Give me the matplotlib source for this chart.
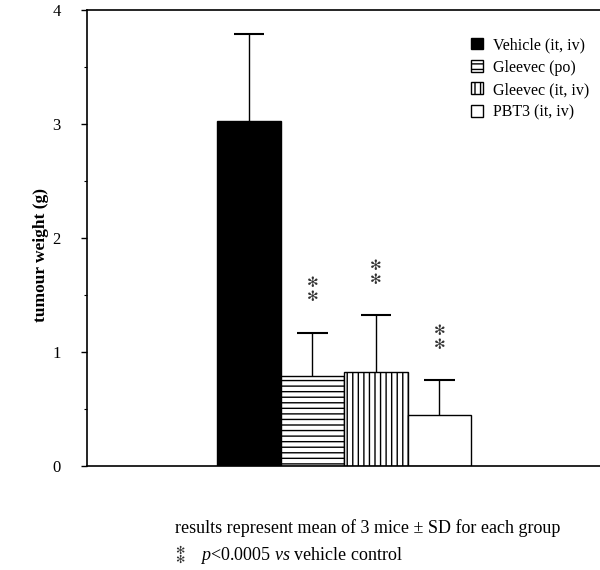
import matplotlib
matplotlib.use("Agg")
import matplotlib.pyplot as plt
from matplotlib.ticker import MultipleLocator
from matplotlib.patches import Patch

plt.rcParams['font.family'] = ['Liberation Serif', 'DejaVu Serif']
plt.rcParams['mathtext.fontset'] = 'custom'
plt.rcParams['mathtext.rm'] = 'Liberation Serif'
plt.rcParams['mathtext.it'] = 'Liberation Serif:italic'
plt.rcParams['hatch.linewidth'] = 1.0

groups = ["Vehicle (it, iv)", "Gleevec (po)", "Gleevec (it, iv)", "PBT3 (it, iv)"]
means = [3.03, 0.79, 0.82, 0.45]
sds = [0.76, 0.38, 0.50, 0.30]
significant = [False, True, True, True]
hatches = ["", "---", "|||", ""]
facecolors = ["black", "white", "white", "white"]

fig = plt.figure(figsize=(6, 5.7), dpi=100)
ax = fig.add_axes([0.145, 0.1825, 0.855, 0.8])

x = [1, 2, 3, 4]
bars = ax.bar(x, means, width=1.0, color=facecolors, edgecolor="black",
              linewidth=1.0, zorder=2)
for b, h in zip(bars, hatches):
    b.set_hatch(h)

tops = [m + s for m, s in zip(means, sds)]
ax.vlines(x, means, tops, color="black", linewidth=1.0, zorder=1)
cap = 0.24
ax.hlines(tops, [xi - cap for xi in x], [xi + cap for xi in x],
          color="black", linewidth=1.5, zorder=1)

for xi, t, sig in zip(x, tops, significant):
    if sig:
        ax.text(xi, t + 0.37, "\u273b\n\u273b", ha="center", va="center",
                fontsize=10, linespacing=1.0, color="#333333",
                family="DejaVu Sans")

ax.set_xlim(-1.547, 6.53)
ax.set_ylim(0, 4)
ax.yaxis.set_major_locator(MultipleLocator(1))
ax.yaxis.set_minor_locator(MultipleLocator(0.5))
ax.set_xticks([])
ax.spines["right"].set_visible(False)
for s in ["left", "top", "bottom"]:
    ax.spines[s].set_linewidth(1.2)
ax.tick_params(axis="y", which="major", length=4, width=1, labelsize=12, pad=15)
ax.tick_params(axis="y", which="minor", length=2, width=0.8)
ax.set_ylabel("tumour weight (g)", fontsize=12.5, fontweight="bold")
ax.yaxis.set_label_coords(-0.075, 0.463)

handles = [Patch(facecolor=fc, edgecolor="black", hatch=h, label=g)
           for g, fc, h in zip(groups, facecolors, hatches)]
leg = ax.legend(handles=handles, loc="upper right", bbox_to_anchor=(1.0, 0.965),
                frameon=False, fontsize=11.5, handlelength=0.75, handleheight=0.75,
                handletextpad=0.6, labelspacing=0.4, borderpad=0.2)

fig.text(0.291, 0.073, "results represent mean of 3 mice \u00b1 SD for each group",
         fontsize=13, ha="left", va="center")
fig.text(0.292, 0.026, "\u273b\n\u273b", fontsize=8, ha="left", va="center",
         linespacing=0.85, color="#333333", family="DejaVu Sans")
fig.text(0.333, 0.026, "$\\it{p}$<0.0005 $\\it{vs}$ vehicle control", fontsize=13,
         ha="left", va="center")

fig.savefig("out.png", dpi=100)
